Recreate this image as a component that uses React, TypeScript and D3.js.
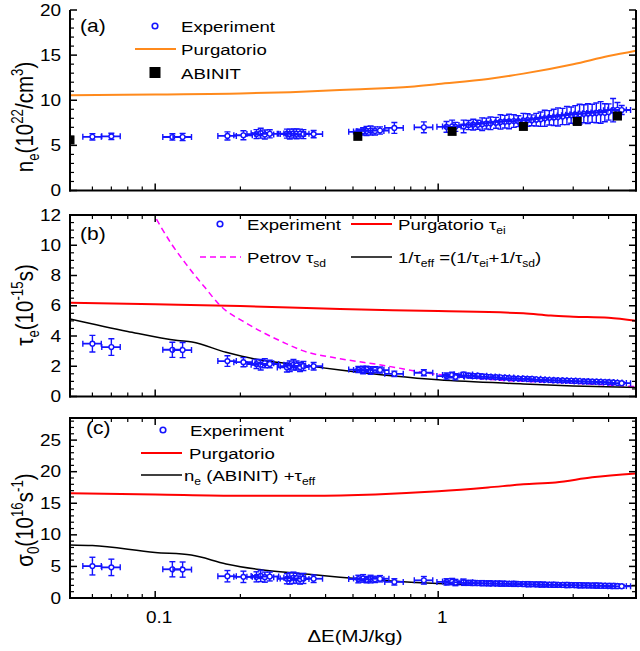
import React from 'react';
import * as d3 from 'd3';

// ---------- data ----------
const expE = [0.06, 0.07, 0.115, 0.125, 0.18, 0.205, 0.228, 0.236, 0.244, 0.254, 0.292, 0.299, 0.308, 0.316, 0.325, 0.334, 0.363,
  0.522, 0.543, 0.558, 0.577, 0.598, 0.623, 0.70, 0.89, 1.07, 1.12, 1.15, 1.23,
  1.28, 1.33, 1.38, 1.43, 1.48, 1.53, 1.6, 1.66, 1.72, 1.78, 1.85, 1.92, 2.0, 2.07, 2.14, 2.22, 2.3, 2.38, 2.47, 2.56,
  2.65, 2.75, 2.85, 2.95, 3.05, 3.16, 3.27, 3.38, 3.5, 3.62, 3.75, 3.88, 4.0, 4.15, 4.3, 4.45];
const expNe = [5.95, 6.0, 5.93, 5.93, 6.05, 6.12, 6.25, 6.35, 6.2, 6.28, 6.3, 6.25, 6.32, 6.28, 6.3, 6.25, 6.25,
  6.5, 6.55, 6.6, 6.65, 6.6, 6.65, 6.93, 7.0, 7.05, 7.1, 7.05, 7.1,
  7.25, 7.3, 7.28, 7.35, 7.42, 7.45, 7.5, 7.6, 7.62, 7.65, 7.7, 7.68, 7.75, 7.8, 7.78, 7.85, 7.9, 8.0, 8.05, 8.1,
  8.15, 8.2, 8.3, 8.35, 8.4, 8.45, 8.5, 8.52, 8.55, 8.6, 8.65, 8.62, 8.7, 8.9, 8.95, 8.92];
const expNeErr = [0.35, 0.35, 0.35, 0.4, 0.45, 0.5, 0.5, 0.55, 0.5, 0.45, 0.5, 0.55, 0.5, 0.55, 0.5, 0.5, 0.4,
  0.3, 0.4, 0.5, 0.5, 0.45, 0.4, 0.6, 0.6, 0.6, 0.7, 0.5, 0.7,
  0.5, 0.6, 0.5, 0.7, 0.6, 0.7, 0.6, 0.8, 0.7, 0.8, 0.7, 0.6, 0.8, 0.7, 0.6, 0.7, 0.8, 0.9, 0.8, 0.9,
  1.0, 0.9, 1.0, 0.9, 1.0, 1.1, 1.0, 1.1, 1.0, 1.1, 1.2, 1.0, 0.9, 1.3, 0.8, 0.5];
const expTau = [3.49, 3.27, 3.09, 3.07, 2.34, 2.27, 2.15, 2.1, 2.2, 2.15, 1.92, 2.0, 2.1, 2.05, 1.95, 2.02, 2.0,
  1.78, 1.75, 1.8, 1.72, 1.77, 1.75, 1.5, 1.57, 1.35, 1.42, 1.3, 1.45,
  1.39, 1.36, 1.38, 1.33, 1.32, 1.3, 1.28, 1.27, 1.25, 1.22, 1.2, 1.19, 1.18, 1.16, 1.17, 1.14, 1.12, 1.1, 1.09, 1.08,
  1.07, 1.06, 1.05, 1.04, 1.03, 1.02, 1.0, 1.0, 0.99, 0.98, 0.97, 0.96, 0.95, 0.93, 0.9, 0.88];
const expTauErr = [0.55, 0.55, 0.5, 0.5, 0.35, 0.3, 0.3, 0.35, 0.3, 0.25, 0.3, 0.35, 0.35, 0.3, 0.3, 0.3, 0.25,
  0.2, 0.25, 0.2, 0.25, 0.2, 0.2, 0.18, 0.2, 0.2, 0.18, 0.2, 0.15,
  0.15, 0.15, 0.12, 0.14, 0.12, 0.12, 0.12, 0.1, 0.12, 0.1, 0.1, 0.1, 0.1, 0.1, 0.1, 0.1, 0.1, 0.1, 0.08, 0.1,
  0.1, 0.08, 0.1, 0.08, 0.1, 0.08, 0.08, 0.08, 0.08, 0.08, 0.08, 0.08, 0.08, 0.08, 0.08, 0.08];
const expSig = [5.05, 4.85, 4.55, 4.5, 3.45, 3.35, 3.35, 3.5, 3.3, 3.4, 3.05, 3.1, 3.2, 3.15, 3.0, 3.1, 3.05,
  3.0, 3.1, 2.9, 3.0, 2.95, 3.05, 2.55, 2.8, 2.55, 2.6, 2.45, 2.5,
  2.4, 2.38, 2.36, 2.35, 2.33, 2.32, 2.3, 2.28, 2.27, 2.25, 2.24, 2.22, 2.2, 2.19, 2.18, 2.16, 2.14, 2.12, 2.1, 2.09,
  2.08, 2.07, 2.05, 2.04, 2.03, 2.01, 2.0, 1.99, 1.98, 1.97, 1.95, 1.94, 1.93, 1.9, 1.88, 1.85];
const expSigErr = [1.4, 1.3, 1.2, 1.2, 0.9, 0.9, 0.8, 0.9, 0.8, 0.7, 0.8, 0.9, 0.9, 0.8, 0.8, 0.8, 0.6,
  0.6, 0.6, 0.5, 0.6, 0.5, 0.5, 0.5, 0.6, 0.5, 0.5, 0.5, 0.5,
  0.4, 0.4, 0.35, 0.4, 0.35, 0.4, 0.35, 0.4, 0.35, 0.35, 0.4, 0.35, 0.35, 0.4, 0.35, 0.35, 0.4, 0.35, 0.35, 0.4,
  0.35, 0.35, 0.4, 0.35, 0.35, 0.4, 0.35, 0.35, 0.35, 0.4, 0.35, 0.35, 0.35, 0.4, 0.35, 0.3];
const xRelErr = 0.075;

const purgNeE = [0.05, 0.1, 0.2, 0.3, 0.5, 0.8, 1.0, 1.5, 2.0, 3.0, 4.0, 5.0];
const purgNe = [10.55, 10.65, 10.75, 10.9, 11.2, 11.5, 11.8, 12.35, 12.95, 14.0, 14.9, 15.5];
const abinitE = [0.05, 0.52, 1.12, 2.0, 3.1, 4.3];
const abinitNe = [5.6, 6.0, 6.55, 7.1, 7.65, 8.25];

const purgTauE = [0.05, 0.1, 0.2, 0.45, 1.0, 2.0, 2.5, 3.0, 4.0, 5.0];
const purgTau = [6.2, 6.1, 5.98, 5.78, 5.65, 5.5, 5.35, 5.28, 5.2, 5.0];
const petrovE = [0.097, 0.115, 0.128, 0.15, 0.17, 0.21, 0.29, 0.33, 0.45, 0.62, 1.0, 1.6, 3.1, 5.0];
const petrovTau = [12.3, 10, 8.8, 7.2, 6.0, 4.85, 3.5, 3.05, 2.5, 2.1, 1.45, 1.1, 0.87, 0.65];
const effTauE = [0.05, 0.08, 0.12, 0.135, 0.178, 0.234, 0.307, 0.45, 1.0, 2.0, 3.0, 5.0];
const effTau = [5.13, 4.3, 3.7, 3.6, 2.92, 2.42, 2.15, 1.75, 1.1, 0.83, 0.7, 0.6];

const purgSigE = [0.05, 0.1, 0.2, 0.35, 0.6, 1.0, 1.5, 2.0, 2.6, 3.5, 5.0];
const purgSig = [16.6, 16.4, 16.2, 16.2, 16.4, 16.9, 17.5, 18.0, 18.3, 19.1, 19.7];
const effSigE = [0.05, 0.06, 0.1, 0.134, 0.178, 0.234, 0.33, 0.45, 1.0, 2.0, 3.0, 4.0, 5.0];
const effSig = [8.4, 8.3, 7.2, 6.8, 5.4, 4.5, 3.85, 3.3, 2.3, 2.0, 1.9, 1.85, 1.95];

const xMajor = [0.1, 1];
const xMinor = [0.05, 0.06, 0.07, 0.08, 0.09, 0.2, 0.3, 0.4, 0.5, 0.6, 0.7, 0.8, 0.9, 2, 3, 4, 5];
const aTicks = [0, 5, 10, 15, 20];
const bTicks = [0, 2, 4, 6, 8, 10, 12];
const cTicks = [0, 5, 10, 15, 20, 25];

// ---------- layout ----------
const FONT = 'Liberation Sans, Arial, sans-serif';
const SX = 1.2;
const X0 = 70, X1 = 636;
const x = d3.scaleLog().domain([0.05, 5]).range([X0, X1]);
const BLUE = '#1414ff';

const yA = d3.scaleLinear().domain([0, 20]).range([190.5, 10]);
const yB = d3.scaleLinear().domain([0, 12]).range([396.5, 215]);
const yC = d3.scaleLinear().domain([0, 28.5]).range([598, 418]);

function T({ x, y, size = 15.5, anchor = 'start', rot = false, children }: any) {
  const tr = `translate(${x},${y}) scale(${SX},1)` + (rot ? ' rotate(-90)' : '');
  return (
    <text transform={tr} fontSize={size} fontFamily={FONT} textAnchor={anchor} fill="#000">
      {children}
    </text>
  );
}

function lineOf(xs: number[], ys: number[], y: any) {
  const g = d3.line<number>().x((d, i) => x(xs[i])).y((d, i) => y(ys[i])).curve(d3.curveMonotoneX);
  return g(ys) || '';
}

function Axes({ y, ticks, minorStep, top }: any) {
  const [d0, d1] = y.domain();
  const yb = y(d0), yt = y(d1);
  const minors = d3.range(d0, d1 + 1e-9, minorStep).filter((v: number) => !ticks.includes(v));
  const els: any[] = [];
  ticks.forEach((v: number, i: number) => {
    els.push(<line key={'ml' + i} x1={X0} x2={X0 + 7} y1={y(v)} y2={y(v)} stroke="#000" strokeWidth={1.5} />);
    els.push(<line key={'mr' + i} x1={X1} x2={X1 - 7} y1={y(v)} y2={y(v)} stroke="#000" strokeWidth={1.5} />);
    els.push(<T key={'lab' + i} x={61} y={y(v) + 5.5} size={15.8} anchor="end">{String(v)}</T>);
  });
  minors.forEach((v: number, i: number) => {
    els.push(<line key={'nl' + i} x1={X0} x2={X0 + 4} y1={y(v)} y2={y(v)} stroke="#000" strokeWidth={1.2} />);
    els.push(<line key={'nr' + i} x1={X1} x2={X1 - 4} y1={y(v)} y2={y(v)} stroke="#000" strokeWidth={1.2} />);
  });
  xMajor.forEach((v, i) => {
    els.push(<line key={'xb' + i} x1={x(v)} x2={x(v)} y1={yb} y2={yb - 7} stroke="#000" strokeWidth={1.5} />);
    if (top) els.push(<line key={'xt' + i} x1={x(v)} x2={x(v)} y1={yt} y2={yt + 7} stroke="#000" strokeWidth={1.5} />);
  });
  xMinor.forEach((v, i) => {
    els.push(<line key={'xbn' + i} x1={x(v)} x2={x(v)} y1={yb} y2={yb - 4} stroke="#000" strokeWidth={1.2} />);
    if (top) els.push(<line key={'xtn' + i} x1={x(v)} x2={x(v)} y1={yt} y2={yt + 4} stroke="#000" strokeWidth={1.2} />);
  });
  return (
    <g>
      {els}
      <line x1={X0} x2={X0} y1={yt} y2={yb + 1} stroke="#000" strokeWidth={2} />
      <line x1={X1} x2={X1} y1={yt} y2={yb + 1} stroke="#000" strokeWidth={2} />
      <line x1={X0 - 1} x2={X1 + 1} y1={yb} y2={yb} stroke="#000" strokeWidth={2} />
      {top && <line x1={X0 - 1} x2={X1 + 1} y1={yt} y2={yt} stroke="#000" strokeWidth={2} />}
    </g>
  );
}

function Exp({ y, vals, errs }: any) {
  return (
    <g>
      {expE.map((e, i) => {
        const cx = x(e), cy = y(vals[i]);
        const xl = x(e * (1 - xRelErr)), xr = x(e * (1 + xRelErr));
        const yt = y(vals[i] + errs[i]), ybm = y(vals[i] - errs[i]);
        return (
          <g key={i} stroke={BLUE} strokeWidth={1.4} fill="none">
            <line x1={xl} x2={xr} y1={cy} y2={cy} strokeWidth={1.8} />
            <line x1={xl} x2={xl} y1={cy - 3} y2={cy + 3} />
            <line x1={xr} x2={xr} y1={cy - 3} y2={cy + 3} />
            <line x1={cx} x2={cx} y1={yt} y2={ybm} />
            <line x1={cx - 3} x2={cx + 3} y1={yt} y2={yt} />
            <line x1={cx - 3} x2={cx + 3} y1={ybm} y2={ybm} />
            <circle cx={cx} cy={cy} r={2.4} fill="#fff" strokeWidth={1.4} />
          </g>
        );
      })}
    </g>
  );
}

export default function App() {
  return (
    <svg width={640} height={651} style={{ position: 'absolute', left: 0, top: 0, background: '#fff' }}>
      <defs>
        <clipPath id="cA"><rect x={X0} y={yA(20)} width={X1 - X0} height={yA(0) - yA(20)} /></clipPath>
        <clipPath id="cB"><rect x={X0} y={yB(12)} width={X1 - X0} height={yB(0) - yB(12)} /></clipPath>
        <clipPath id="cC"><rect x={X0} y={yC(28.5)} width={X1 - X0} height={yC(0) - yC(28.5)} /></clipPath>
      </defs>
      <rect width={640} height={651} fill="#fff" />

      {/* ---- panel (a) ---- */}
      <g clipPath="url(#cA)">
        <path d={lineOf(purgNeE, purgNe, yA)} fill="none" stroke="#ff8a1c" strokeWidth={2} />
        <Exp y={yA} vals={expNe} errs={expNeErr} />
        {abinitE.map((e, i) => (
          <rect key={i} x={x(e) - 4.5} y={yA(abinitNe[i]) - 4.5} width={9} height={9} fill="#000" />
        ))}
      </g>
      <Axes y={yA} ticks={aTicks} minorStep={1} top={false} />
      <T x={80} y={32} size={17.5}>(a)</T>
      <circle cx={155} cy={26} r={2.8} fill="#fff" stroke={BLUE} strokeWidth={1.6} />
      <T x={181} y={32}>Experiment</T>
      <line x1={135} x2={176} y1={49} y2={49} stroke="#ff8a1c" strokeWidth={2} />
      <T x={181} y={55}>Purgatorio</T>
      <rect x={149.5} y={67} width={11} height={11} fill="#000" />
      <T x={181} y={79}>ABINIT</T>
      <T x={33} y={117} size={20.5} anchor="middle" rot>
        n<tspan fontSize="0.65em" dy={5}>e</tspan><tspan dy={-5}>(10</tspan><tspan fontSize="0.65em" dy={-8}>22</tspan><tspan dy={8}>/cm</tspan><tspan fontSize="0.65em" dy={-8}>3</tspan><tspan dy={8}>)</tspan>
      </T>

      {/* ---- panel (b) ---- */}
      <g clipPath="url(#cB)">
        <path d={lineOf(purgTauE, purgTau, yB)} fill="none" stroke="#ff0000" strokeWidth={2} />
        <path d={lineOf(petrovE, petrovTau, yB)} fill="none" stroke="#ff00ff" strokeWidth={1.5} strokeDasharray="6,4" />
        <path d={lineOf(effTauE, effTau, yB)} fill="none" stroke="#000" strokeWidth={1.5} />
        <Exp y={yB} vals={expTau} errs={expTauErr} />
      </g>
      <Axes y={yB} ticks={bTicks} minorStep={0.5} top={true} />
      <T x={80} y={240} size={17.5}>(b)</T>
      <circle cx={220} cy={224} r={2.8} fill="#fff" stroke={BLUE} strokeWidth={1.6} />
      <T x={247} y={230}>Experiment</T>
      <line x1={351} x2={392} y1={224} y2={224} stroke="#ff0000" strokeWidth={2} />
      <T x={398} y={230}>Purgatorio τ<tspan fontSize="0.65em" dy={4}>ei</tspan></T>
      <line x1={200} x2={241} y1={257} y2={257} stroke="#ff00ff" strokeWidth={1.5} strokeDasharray="6,4" />
      <T x={247} y={263}>Petrov τ<tspan fontSize="0.65em" dy={4}>sd</tspan></T>
      <line x1={351} x2={392} y1={257} y2={257} stroke="#000" strokeWidth={1.5} />
      <T x={398} y={263}>
        1/τ<tspan fontSize="0.65em" dy={4}>eff</tspan><tspan dy={-4}> =(1/τ</tspan><tspan fontSize="0.65em" dy={4}>ei</tspan><tspan dy={-4}>+1/τ</tspan><tspan fontSize="0.65em" dy={4}>sd</tspan><tspan dy={-4}>)</tspan>
      </T>
      <T x={33} y={305} size={20.5} anchor="middle" rot>
        τ<tspan fontSize="0.65em" dy={5}>e</tspan><tspan dy={-5}>(10</tspan><tspan fontSize="0.65em" dy={-8}>-15</tspan><tspan dy={8}>s)</tspan>
      </T>

      {/* ---- panel (c) ---- */}
      <g clipPath="url(#cC)">
        <path d={lineOf(purgSigE, purgSig, yC)} fill="none" stroke="#ff0000" strokeWidth={2} />
        <path d={lineOf(effSigE, effSig, yC)} fill="none" stroke="#000" strokeWidth={1.5} />
        <Exp y={yC} vals={expSig} errs={expSigErr} />
      </g>
      <Axes y={yC} ticks={cTicks} minorStep={1} top={true} />
      <T x={86} y={434} size={17.5}>(c)</T>
      <circle cx={163} cy={430} r={2.8} fill="#fff" stroke={BLUE} strokeWidth={1.6} />
      <T x={190} y={436}>Experiment</T>
      <line x1={141} x2={182} y1={453} y2={453} stroke="#ff0000" strokeWidth={2} />
      <T x={189} y={459}>Purgatorio</T>
      <line x1={141} x2={182} y1={475} y2={475} stroke="#000" strokeWidth={1.5} />
      <T x={184} y={481}>
        n<tspan fontSize="0.65em" dy={4}>e</tspan><tspan dy={-4}> (ABINIT) +τ</tspan><tspan fontSize="0.65em" dy={4}>eff</tspan>
      </T>
      <T x={33} y={520} size={20.5} anchor="middle" rot>
        σ<tspan fontSize="0.65em" dy={5}>0</tspan><tspan dy={-5}>(10</tspan><tspan fontSize="0.65em" dy={-8}>16</tspan><tspan dy={8}>s</tspan><tspan fontSize="0.65em" dy={-8}>-1</tspan><tspan dy={8}>)</tspan>
      </T>

      {/* x tick labels and title */}
      {xMajor.map((v, i) => (
        <T key={i} x={x(v) + 4} y={623} size={15.8} anchor="middle">{String(v)}</T>
      ))}
      <T x={355} y={642} size={17} anchor="middle">ΔE(MJ/kg)</T>
    </svg>
  );
}
